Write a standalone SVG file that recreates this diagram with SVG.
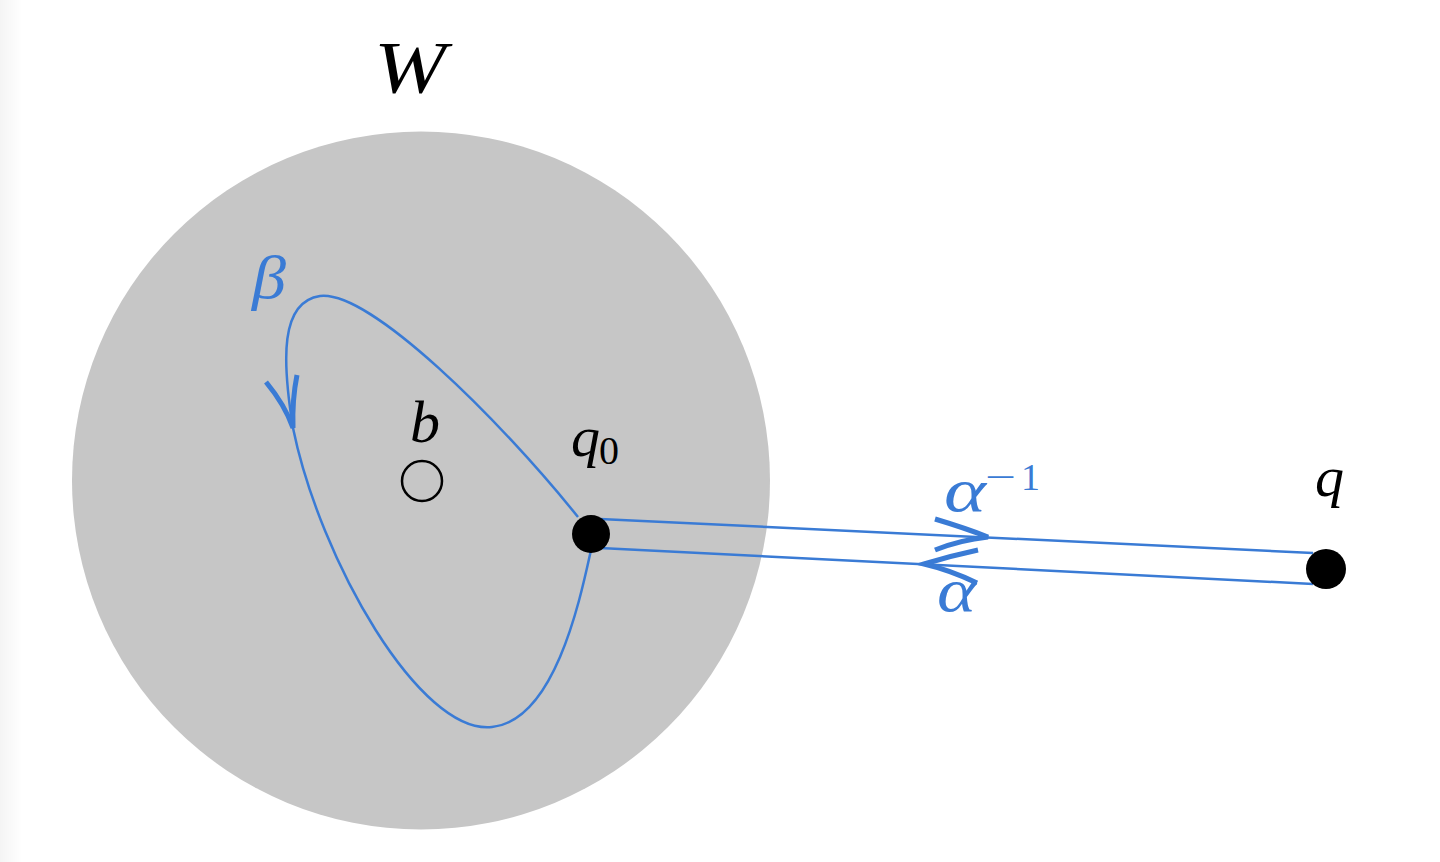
<svg xmlns="http://www.w3.org/2000/svg" width="1440" height="862" viewBox="0 0 1440 862">
<defs>
<style>
.m{font-family:"Liberation Serif","DejaVu Serif",serif;font-style:italic}
.r{font-family:"Liberation Serif","DejaVu Serif",serif}
.blue{fill:#3a7bd5}
.ln{fill:none;stroke:#3a7bd5;stroke-width:2.5}
.hd{fill:none;stroke:#3a7bd5;stroke-width:5;stroke-linecap:butt}
</style>
<linearGradient id="lg" x1="0" x2="1" y1="0" y2="0">
<stop offset="0" stop-color="#f4f4f4"/>
<stop offset="1" stop-color="#ffffff"/>
</linearGradient>
</defs>
<rect width="1440" height="862" fill="#ffffff"/>
<rect width="22" height="862" fill="url(#lg)"/>
<g id="W">
<circle cx="421" cy="480.5" r="349" fill="#c6c6c6"/>
<text class="m" x="374" y="93" font-size="74" textLength="72" lengthAdjust="spacingAndGlyphs">W</text>
</g>
<g id="b">
<circle cx="422" cy="481" r="20" fill="none" stroke="#000" stroke-width="2.5"/>
<text class="m" x="410" y="442" font-size="60">b</text>
</g>
<g id="connectors">
<path class="ln" d="M 578,517 C 500,420 370,290 320,296 C 280,302 282,360 293,428 C 320,560 420,735 492,727 C 555,720 580,600 591,550"/>
<path class="hd" d="M 266,382 Q 285,405 293,428 Q 292,400 297,375"/>
<line class="ln" x1="600" y1="519" x2="1313" y2="553"/>
<line class="ln" x1="600" y1="548" x2="1313" y2="584"/>
<path class="hd" d="M 935,519 Q 965,528 988,537 Q 960,540 935,550"/>
<path class="hd" d="M 978,550 Q 950,556 924,564 Q 950,570 977,583"/>
<text class="m blue" x="252" y="298" font-size="62" textLength="34" lengthAdjust="spacingAndGlyphs">β</text>
<text class="m blue" x="944" y="511" font-size="62" textLength="42" lengthAdjust="spacingAndGlyphs">α</text>
<text class="r blue" x="985" y="490" font-size="38" textLength="31" lengthAdjust="spacingAndGlyphs">−</text>
<text class="r blue" x="1021" y="490" font-size="38">1</text>
<text class="m blue" x="937" y="611" font-size="62" textLength="39" lengthAdjust="spacingAndGlyphs">α</text>
</g>
<g id="q0">
<circle cx="591" cy="534" r="19" fill="#000"/>
<text class="m" x="571" y="456" font-size="58">q</text>
<text class="r" x="599" y="464" font-size="40">0</text>
</g>
<g id="q">
<circle cx="1326" cy="569" r="20" fill="#000"/>
<text class="m" x="1315" y="496" font-size="58">q</text>
</g>
</svg>
